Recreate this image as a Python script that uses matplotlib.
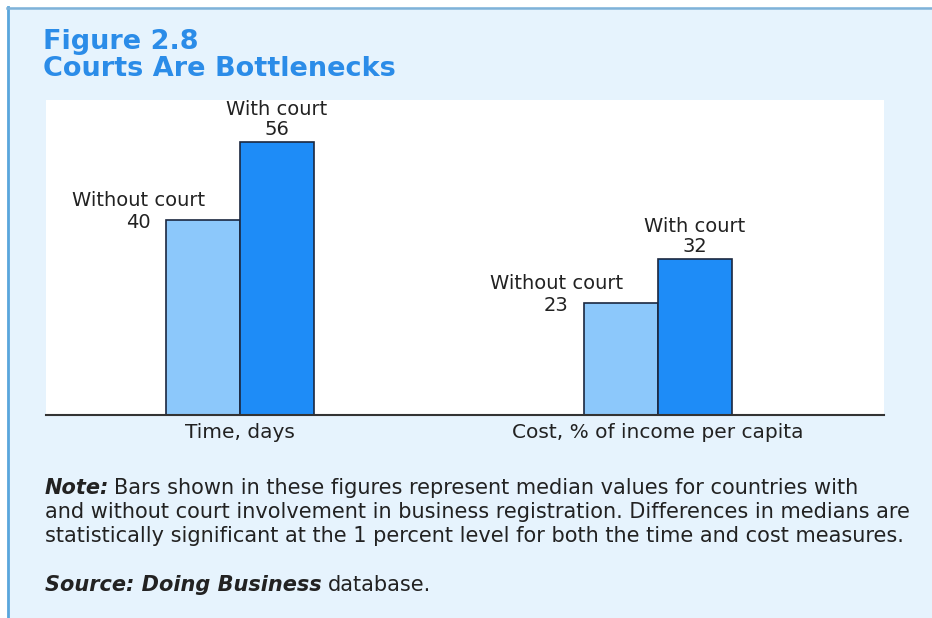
import matplotlib
matplotlib.use("Agg")
import matplotlib.pyplot as plt
from matplotlib.patches import Rectangle
from matplotlib.lines import Line2D
import numpy as np

# chart data
categories = ["Time, days", "Cost, % of income per capita"]
series_names = ["Without court", "With court"]
without_court = [40, 23]
with_court = [56, 32]

title_lines = ["Figure 2.8", "Courts Are Bottlenecks"]
note_lines = [
    "Bars shown in these figures represent median values for countries with",
    "and without court involvement in business registration. Differences in medians are",
    "statistically significant at the 1 percent level for both the time and cost measures.",
]

W, H = 932, 618
bg = "#e6f3fd"
title_color = "#2b8ce8"
light_bar = "#8cc8fb"
dark_bar = "#1e8cf7"
edge = "#1b2840"
txt = "#222222"


def fx(px):
    return px / W


def fy(py):
    return 1 - py / H


fig = plt.figure(figsize=(W / 100, H / 100), dpi=100)
fig.patch.set_facecolor("white")

# light blue panel with its left and top rule
fig.patches.append(Rectangle((fx(7), 0), 1 - fx(7), fy(7), transform=fig.transFigure,
                             facecolor=bg, edgecolor="none", zorder=-10))
fig.add_artist(Line2D([fx(7.5), fx(7.5)], [0, fy(7)], color="#5aa6dc", lw=2))
fig.add_artist(Line2D([fx(7), 1], [fy(7.5), fy(7.5)], color="#7fb2d8", lw=1.8))

# title
fig.text(fx(43), fy(49), title_lines[0], color=title_color, fontsize=19.5,
         fontweight="bold", va="baseline")
fig.text(fx(43), fy(76), title_lines[1], color=title_color, fontsize=19.5,
         fontweight="bold", va="baseline")

# plot area
ax = fig.add_axes([fx(46), fy(415), fx(884) - fx(46), fy(100) - fy(415)])
ax.set_facecolor("white")
for s in ["left", "right", "top"]:
    ax.spines[s].set_visible(False)
ax.spines["bottom"].set_color("#333333")
ax.spines["bottom"].set_linewidth(1.5)

x = np.arange(len(categories))
w = 0.177
ax.bar(x - w / 2, without_court, w, color=light_bar, edgecolor=edge, lw=1.2)
ax.bar(x + w / 2, with_court, w, color=dark_bar, edgecolor=edge, lw=1.2)

ax.set_xlim(-0.464, 1.541)
ax.set_ylim(0, 64.6)
ax.set_yticks([])
ax.set_xticks(x)
ax.set_xticklabels(categories, fontsize=14.5, color=txt)
ax.tick_params(axis="x", length=0, pad=6)

for i in range(len(categories)):
    ax.annotate(f"{series_names[0]}\n{without_court[i]}", xy=(x[i] - w, without_court[i]),
                xytext=(-20, 6), textcoords="offset points", ha="center", va="center",
                fontsize=14, color=txt)
    ax.annotate(f"{series_names[1]}\n{with_court[i]}", xy=(x[i] + w / 2, with_court[i]),
                xytext=(0, 2), textcoords="offset points", ha="center", va="bottom",
                fontsize=14, color=txt, linespacing=1.1)

# note and source
fs = 15
note = fig.text(fx(45), fy(494), "Note:", fontsize=fs, style="italic",
                fontweight="bold", color=txt, va="baseline")
ax.annotate(note_lines[0], xy=(1, 0), xycoords=note, xytext=(5, 0),
            textcoords="offset pixels", fontsize=fs, color=txt,
            va="bottom", ha="left", annotation_clip=False)
fig.text(fx(45), fy(518), note_lines[1], fontsize=fs, color=txt, va="baseline")
fig.text(fx(45), fy(542), note_lines[2], fontsize=fs, color=txt, va="baseline")

src = fig.text(fx(45), fy(591), "Source: Doing Business", fontsize=fs,
               style="italic", fontweight="bold", color=txt, va="baseline")
ax.annotate("database.", xy=(1, 0), xycoords=src, xytext=(6, 0),
            textcoords="offset pixels", fontsize=fs, color=txt,
            va="bottom", ha="left", annotation_clip=False)

fig.savefig("out.png", dpi=100, facecolor=fig.get_facecolor())
